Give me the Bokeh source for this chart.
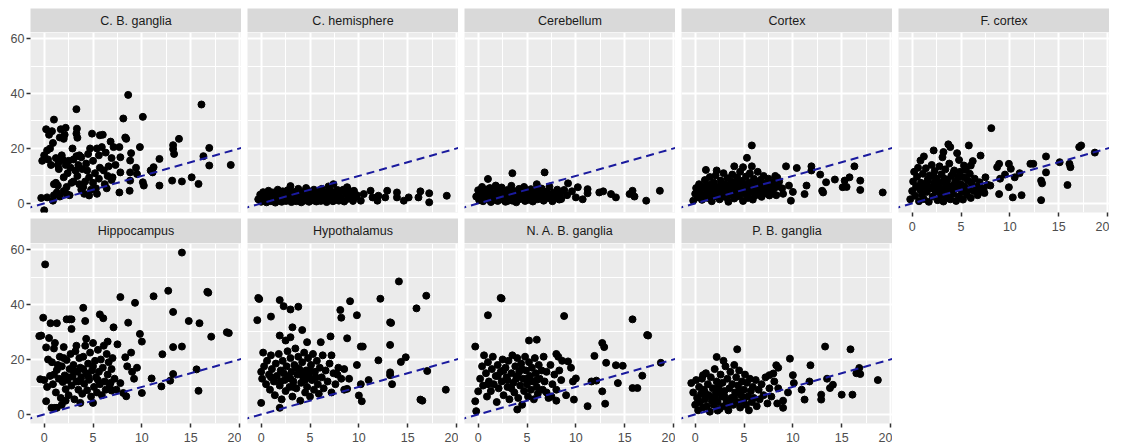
from bokeh.plotting import figure
from bokeh.layouts import row, column
from bokeh.models import Slope, Range1d, FixedTicker, LinearAxis, Grid, Label
from bokeh.embed import file_html
from bokeh.resources import INLINE

# ---------------- data (x, y) ----------------
C_B_GANGLIA = [
    (8.6, 39.5), (3.3, 34.3), (16.1, 36.0), (10.1, 31.5), (8.1, 30.9), (1.0, 30.5),
    (13.8, 23.5), (13.2, 21.2), (13.2, 19.8), (13.3, 18.0), (16.9, 20.2), (16.3, 17.2),
    (16.9, 13.8), (19.1, 14.0), (15.1, 9.5), (15.8, 7.1), (13.1, 8.3), (14.1, 8.0),
    (11.8, 16.2), (11.2, 13.2), (11.1, 11.3), (10.9, 12.0), (11.8, 6.5), (10.2, 6.5),
    (10.1, 7.7), (9.8, 20.5), (9.4, 13.0), (9.5, 10.7), (8.9, 18.3), (8.8, 15.6),
    (8.8, 11.3), (8.8, 8.3), (8.75, 4.6), (8.3, 24.0), (8.4, 23.5), (7.7, 20.5),
    (7.8, 16.8), (7.8, 11.3), (7.7, 4.0), (6.8, 22.5), (7.1, 20.5), (6.9, 16.5),
    (6.6, 13.5), (6.5, 10.0), (6.9, 8.5), (6.2, 7.0), (6.0, 25.0), (5.7, 24.8),
    (5.9, 20.5), (5.4, 20.0), (4.9, 25.4), (5.6, 17.5), (5.0, 15.5), (5.7, 13.0),
    (5.2, 11.0), (5.6, 9.0), (5.0, 7.5), (4.8, 5.0), (5.4, 3.5), (4.6, 2.9),
    (6.1, 12.0), (6.3, 18.5), (4.7, 20.0), (4.5, 18.0), (4.4, 12.0), (4.2, 8.0),
    (4.0, 6.0), (4.1, 3.5), (3.35, 27.2), (3.3, 25.4), (3.4, 23.9), (3.6, 17.5),
    (3.8, 16.8), (3.3, 17.2), (3.0, 16.0), (3.5, 14.0), (3.2, 12.0), (3.4, 10.0),
    (3.0, 8.0), (3.6, 7.0), (3.8, 5.0), (2.2, 27.5), (2.1, 25.0), (2.0, 23.5),
    (1.6, 24.0), (1.7, 27.0), (2.5, 15.5), (2.2, 14.0), (2.7, 13.0), (2.4, 11.0),
    (2.0, 9.5), (2.8, 7.5), (2.3, 6.0), (2.0, 4.5), (2.6, 3.0), (1.8, 17.5),
    (1.9, 16.0), (1.5, 15.2), (1.2, 16.5), (1.4, 14.0), (1.5, 12.5), (1.2, 7.5),
    (1.0, 7.0), (1.4, 6.5), (1.3, 4.0), (1.0, 3.0), (1.6, 2.5), (2.3, 3.5),
    (0.0, 17.5), (-0.2, 15.5), (0.3, 19.3), (0.6, 20.0), (0.9, 22.0), (0.5, 25.0),
    (0.8, 26.3), (0.2, 27.0), (0.3, 2.2), (-0.3, 2.0), (0.0, -2.5), (0.9, 1.0),
    (0.7, 14.0), (0.4, 16.0), (4.3, 14.5), (3.9, 12.5), (2.9, 20.0), (6.4, 5.5),
    (7.3, 14.0), (7.0, 9.5), (5.3, 5.5), (4.6, 9.5),
]

C_HEMISPHERE = [
    (-0.3, 1.5), (-0.1, 3.2), (0.0, 0.6), (0.15, 2.4), (0.2, 4.1), (0.35, 1.1),
    (0.4, 3.0), (0.55, 0.4), (0.6, 2.0), (0.75, 4.6), (0.8, 1.4), (0.95, 3.5),
    (1.0, 0.8), (1.15, 2.7), (1.2, 4.0), (1.3, 1.9), (1.45, 0.3), (1.5, 3.3),
    (1.65, 2.2), (1.7, 5.0), (1.85, 1.0), (1.9, 3.8), (2.05, 2.5), (2.1, 0.6),
    (2.2, 4.4), (2.35, 1.6), (2.4, 3.1), (2.55, 0.9), (2.6, 2.3), (2.7, 4.8),
    (2.85, 1.3), (2.9, 3.6), (3.0, 6.3), (3.1, 0.5), (3.25, 2.8), (3.3, 4.2),
    (3.45, 1.7), (3.5, 3.4), (3.6, 0.8), (3.75, 2.1), (3.8, 5.3), (3.9, 1.2),
    (4.05, 3.0), (4.1, 0.4), (4.2, 4.1), (4.35, 2.4), (4.4, 1.0), (4.5, 3.7),
    (4.6, 5.6), (4.75, 1.8), (4.8, 2.9), (4.9, 0.6), (5.05, 4.3), (5.1, 2.0),
    (5.2, 3.4), (5.35, 1.1), (5.4, 5.0), (5.5, 2.6), (5.65, 0.7), (5.7, 3.9),
    (5.8, 1.6), (5.95, 4.7), (6.0, 2.3), (6.1, 0.9), (6.2, 5.3), (6.35, 3.1),
    (6.4, 1.4), (6.5, 4.0), (6.65, 2.0), (6.7, 0.5), (6.8, 3.5), (6.9, 6.2),
    (7.05, 1.8), (7.1, 4.6), (7.2, 2.7), (7.35, 0.8), (7.4, 7.0), (7.5, 3.8),
    (7.65, 1.5), (7.7, 2.5), (7.8, 4.9), (7.95, 1.0), (8.0, 3.3), (8.2, 2.0),
    (8.4, 5.0), (8.5, 0.7), (8.7, 3.6), (8.8, 5.9), (8.9, 1.7), (9.0, 4.6),
    (9.2, 2.6), (9.4, 0.9), (9.5, 4.6), (9.6, 2.2), (9.8, 3.0),
    (10.2, 1.0), (10.5, 3.4), (11.2, 4.6), (11.4, 2.2), (11.9, 1.0), (12.0, 2.8),
    (12.7, 2.2), (12.9, 4.6), (13.9, 4.0), (13.9, 2.2), (14.6, 1.0), (15.1, 2.2),
    (16.1, 2.2), (16.3, 4.4), (17.2, 3.7), (17.2, 0.4), (19.0, 2.8),
    (0.2, 1.8), (0.5, 2.9), (0.9, 1.9), (1.2, 2.6), (1.6, 3.9), (2.0, 1.4),
    (2.4, 2.0), (2.8, 3.0), (3.1, 3.9), (3.5, 1.9), (3.9, 2.6), (4.3, 3.6),
    (4.7, 3.2), (5.1, 1.5), (5.5, 3.9), (5.9, 2.9), (6.3, 1.9), (6.7, 3.0),
    (7.1, 2.1), (7.5, 2.6),
]

CEREBELLUM = [
    (1.0, 8.9), (3.5, 11.0), (6.8, 11.3), (9.2, 7.3), (10.2, 5.9), (11.2, 5.2),
    (11.2, 3.7), (12.4, 4.0), (12.8, 4.4), (13.6, 3.4), (14.1, 2.2), (15.8, 4.6),
    (15.5, 3.4), (17.2, 1.0), (18.6, 4.6), (16.0, 2.5), (9.6, 4.4), (10.0, 2.2),
    (9.1, 3.0), (8.8, 4.9), (8.5, 1.6), (10.7, 1.5),
    (-0.2, 2.5), (0.0, 4.8), (0.1, 1.2), (0.3, 3.6), (0.4, 6.0), (0.5, 0.8),
    (0.6, 2.9), (0.8, 4.4), (0.9, 1.7), (1.1, 3.2), (1.2, 5.6), (1.3, 0.5),
    (1.4, 2.4), (1.6, 4.0), (1.7, 1.3), (1.8, 6.5), (1.9, 3.0), (2.0, 0.9),
    (2.2, 4.7), (2.3, 2.1), (2.4, 5.8), (2.5, 1.4), (2.6, 3.5), (2.8, 0.6),
    (2.9, 2.7), (3.0, 4.9), (3.1, 1.8), (3.3, 3.9), (3.4, 6.4), (3.5, 1.0),
    (3.6, 2.5), (3.8, 4.4), (3.9, 0.4), (4.0, 3.1), (4.2, 5.3), (4.3, 1.6),
    (4.4, 3.8), (4.6, 2.2), (4.7, 6.0), (4.8, 0.9), (5.0, 4.1), (5.1, 2.8),
    (5.2, 1.3), (5.4, 5.2), (5.5, 3.3), (5.6, 0.7), (5.8, 2.1), (5.9, 4.6),
    (6.0, 7.0), (6.1, 1.5), (6.3, 3.6), (6.4, 2.4), (6.5, 5.4), (6.7, 1.0),
    (6.8, 3.0), (7.0, 4.3), (7.1, 1.9), (7.3, 6.1), (7.4, 2.7), (7.6, 0.8),
    (7.7, 3.9), (7.9, 2.1), (8.1, 5.0), (8.3, 1.4), (8.4, 3.3), (0.7, 2.0),
    (1.5, 1.8), (2.1, 3.3), (2.7, 2.0), (3.2, 2.9), (3.7, 3.4), (4.1, 2.0),
    (4.5, 4.6), (4.9, 3.0), (5.3, 2.0), (5.7, 3.8), (6.2, 2.8), (6.6, 4.2),
    (6.9, 2.3), (7.2, 3.2), (1.0, 5.2), (1.3, 3.7), (2.0, 5.5), (2.8, 4.0),
    (3.0, 0.9),
]

CORTEX = [
    (5.8, 21.1), (5.3, 16.6), (4.0, 13.5), (4.9, 13.2), (1.1, 12.2), (2.2, 12.0),
    (5.8, 13.5), (9.3, 13.5), (10.4, 12.9), (11.9, 13.5), (11.9, 12.0), (16.3, 13.5),
    (12.8, 10.5), (14.3, 8.7), (13.4, 7.7), (15.3, 8.3), (15.8, 9.5), (16.9, 8.3),
    (16.9, 4.9), (19.2, 4.0), (15.1, 5.9), (15.5, 6.0), (13.1, 4.0), (13.0, 4.6),
    (11.2, 3.4), (11.4, 6.5), (9.8, 1.0), (10.0, 4.2), (9.6, 6.5), (8.9, 5.5),
    (8.6, 8.0), (8.2, 10.0), (9.0, 3.5),
    (-0.2, 1.0), (0.0, 3.5), (0.1, 5.6), (0.3, 2.2), (0.4, 7.0), (0.5, 4.3),
    (0.7, 1.3), (0.8, 6.2), (0.9, 3.0), (1.0, 8.5), (1.2, 4.8), (1.3, 2.0),
    (1.4, 6.8), (1.5, 9.6), (1.6, 3.6), (1.7, 0.8), (1.8, 5.5), (1.9, 7.6),
    (2.0, 2.6), (2.1, 10.2), (2.2, 4.4), (2.4, 6.2), (2.5, 1.5), (2.6, 8.3),
    (2.7, 3.4), (2.8, 5.6), (2.9, 11.0), (3.0, 7.0), (3.1, 2.3), (3.2, 4.8),
    (3.3, 9.2), (3.4, 0.6), (3.5, 6.0), (3.6, 3.2), (3.7, 8.0), (3.8, 10.5),
    (3.9, 5.0), (4.0, 1.8), (4.1, 7.4), (4.2, 3.8), (4.3, 9.5), (4.4, 6.0),
    (4.5, 2.6), (4.6, 11.5), (4.7, 4.6), (4.8, 8.2), (4.9, 0.9), (5.0, 6.6),
    (5.1, 3.5), (5.2, 9.8), (5.3, 5.4), (5.4, 2.0), (5.5, 7.6), (5.6, 11.0),
    (5.7, 4.0), (5.8, 6.8), (5.9, 1.4), (6.0, 9.0), (6.1, 5.2), (6.2, 3.0),
    (6.3, 7.8), (6.4, 11.5), (6.5, 4.4), (6.6, 6.3), (6.7, 8.6), (6.8, 2.4),
    (6.9, 5.8), (7.0, 10.0), (7.1, 3.6), (7.2, 7.2), (7.3, 5.0), (7.5, 9.0),
    (7.6, 2.9), (7.7, 6.4), (7.8, 4.2), (8.0, 7.8), (8.1, 5.5), (8.3, 3.0),
    (8.4, 9.4), (8.5, 6.2), (1.1, 5.9), (2.3, 5.1), (3.0, 4.0), (3.6, 6.8),
    (4.3, 4.8), (5.0, 4.3), (5.6, 5.8), (6.3, 4.8), (7.0, 6.0), (2.0, 3.8),
    (1.5, 4.8), (4.6, 7.0), (3.3, 2.9),
]

F_CORTEX = [
    (8.1, 27.4), (3.7, 21.5), (3.9, 20.5), (5.8, 21.1), (2.2, 19.3), (1.2, 17.1),
    (0.85, 15.6), (3.2, 18.7), (3.1, 16.8), (4.6, 18.3), (4.8, 15.8), (7.0, 17.4),
    (6.2, 15.4), (6.0, 13.8), (5.3, 13.8), (8.9, 14.4), (8.7, 13.2), (9.9, 14.4),
    (10.1, 12.6), (12.1, 14.4), (12.4, 14.4), (13.7, 17.1), (13.7, 11.3), (15.1, 15.0),
    (16.1, 14.4), (16.2, 13.2), (17.1, 20.5), (17.3, 21.1), (18.7, 18.5), (15.9, 6.7),
    (13.2, 8.3), (13.3, 7.3), (13.2, 1.2), (11.2, 3.0), (10.3, 2.2), (9.9, 5.9),
    (8.9, 3.4), (9.5, 10.5), (10.5, 9.5), (11.0, 11.0), (9.0, 9.0), (7.5, 9.5),
    (8.0, 6.5), (7.3, 5.0), (6.8, 4.2),
    (-0.2, 1.5), (0.0, 4.5), (0.1, 8.0), (0.2, 11.5), (0.3, 2.8), (0.4, 6.2),
    (0.5, 9.7), (0.6, 13.0), (0.7, 0.8), (0.8, 5.0), (0.9, 7.5), (1.0, 3.2),
    (1.1, 10.8), (1.2, 1.6), (1.3, 6.3), (1.4, 12.8), (1.5, 4.2), (1.6, 8.8),
    (1.7, 0.6), (1.8, 10.2), (1.9, 5.6), (2.0, 14.0), (2.1, 2.5), (2.2, 7.3),
    (2.3, 11.8), (2.4, 4.4), (2.5, 9.0), (2.6, 1.2), (2.7, 6.0), (2.8, 13.5),
    (2.9, 3.0), (3.0, 10.6), (3.1, 7.8), (3.2, 0.7), (3.3, 5.4), (3.4, 12.4),
    (3.5, 2.6), (3.6, 8.5), (3.7, 4.8), (3.8, 14.5), (3.9, 1.5), (4.0, 10.0),
    (4.1, 6.4), (4.2, 3.5), (4.3, 12.0), (4.4, 8.0), (4.5, 0.9), (4.6, 5.5),
    (4.7, 9.4), (4.8, 2.6), (4.9, 11.5), (5.0, 7.0), (5.1, 4.3), (5.2, 1.4),
    (5.3, 9.5), (5.4, 6.0), (5.5, 12.2), (5.6, 3.2), (5.7, 8.3), (5.8, 5.0),
    (5.9, 10.8), (6.0, 2.0), (6.1, 7.2), (6.3, 4.5), (6.4, 9.0), (6.6, 6.0),
    (6.7, 3.0), (6.9, 7.7), (7.1, 5.5), (7.4, 3.8), (7.7, 6.8), (1.0, 6.0),
    (1.5, 7.5), (2.0, 5.5), (2.5, 6.8), (3.0, 4.5), (3.5, 6.8), (4.0, 5.0),
    (4.5, 7.2), (5.0, 5.8), (5.5, 4.5), (2.2, 9.8), (3.3, 9.0), (4.2, 11.0),
]

HIPPOCAMPUS = [
    (14.1, 58.9), (0.1, 54.6), (12.7, 45.0), (16.7, 44.6), (16.8, 44.3), (11.2, 43.0),
    (7.8, 42.7), (9.3, 40.6), (4.0, 38.8), (-0.1, 35.2), (-0.3, 28.7), (-0.5, 28.5),
    (0.65, 33.2), (1.3, 33.2), (2.3, 34.6), (2.6, 34.6), (2.8, 34.6), (2.8, 31.1),
    (4.2, 34.0), (5.7, 36.4), (6.05, 35.0), (7.1, 31.7), (8.6, 33.4), (13.2, 37.3),
    (14.8, 34.0), (15.9, 33.2), (17.1, 28.3), (18.7, 29.9), (18.9, 29.6), (9.8, 29.3),
    (10.0, 26.5), (13.2, 24.5), (14.1, 24.7), (12.1, 21.9), (11.0, 13.1), (12.0, 10.2),
    (12.9, 12.3), (13.2, 14.7), (15.6, 16.4), (15.8, 8.6), (10.0, 7.8), (8.1, 7.8),
    (8.4, 6.6), (7.8, 11.4), (6.7, 10.2), (6.9, 8.7), (5.0, 4.2), (3.7, 4.2),
    (0.75, 2.4), (1.1, 2.4), (1.3, 2.4), (0.2, 4.8), (9.5, 17.0), (8.9, 22.5),
    (8.3, 20.8), (9.0, 15.5), (9.2, 13.0), (8.5, 17.5), (7.5, 25.5), (6.5, 26.5),
    (-0.4, 12.8), (0.0, 12.5), (0.2, 24.4), (0.3, 10.0), (0.5, 27.8), (0.6, 14.0),
    (0.8, 19.0), (0.9, 11.0), (1.0, 24.0), (1.1, 26.0), (1.2, 8.0), (1.3, 16.2),
    (1.5, 13.0), (1.6, 21.0), (1.7, 6.0), (1.8, 17.5), (1.9, 11.8), (2.0, 24.5),
    (2.1, 14.2), (2.2, 9.2), (2.3, 19.8), (2.4, 12.5), (2.5, 7.0), (2.6, 16.5),
    (2.7, 22.0), (2.8, 10.5), (2.9, 13.8), (3.0, 18.0), (3.1, 5.5), (3.2, 23.0),
    (3.3, 12.0), (3.4, 15.5), (3.5, 9.0), (3.6, 20.5), (3.7, 17.0), (3.8, 13.5),
    (3.9, 7.5), (4.0, 21.0), (4.1, 11.2), (4.2, 25.0), (4.3, 15.0), (4.4, 8.8),
    (4.5, 18.5), (4.6, 12.6), (4.7, 22.5), (4.8, 6.5), (4.9, 16.0), (5.0, 26.0),
    (5.1, 10.0), (5.2, 19.5), (5.3, 13.5), (5.4, 8.0), (5.5, 23.5), (5.6, 15.5),
    (5.7, 11.0), (5.8, 20.0), (5.9, 7.0), (6.0, 17.0), (6.1, 25.0), (6.2, 12.0),
    (6.3, 9.0), (6.4, 22.0), (6.5, 14.5), (6.6, 19.0), (6.8, 11.5), (6.9, 16.5),
    (7.0, 20.5), (7.2, 13.0), (7.4, 9.0), (0.4, 20.0), (1.4, 18.0), (2.0, 20.5),
    (2.5, 13.5), (3.0, 16.0), (3.5, 12.0), (4.0, 16.5), (4.5, 14.0), (5.0, 17.5),
    (5.5, 12.5), (1.0, 14.5), (3.3, 25.0), (4.3, 27.5), (2.2, 5.0), (1.8, 3.5),
]

HYPOTHALAMUS = [
    (14.1, 48.4), (-0.3, 42.4), (-0.2, 42.0), (1.9, 41.6), (2.3, 39.4), (3.0, 38.2),
    (3.8, 39.2), (9.1, 41.2), (12.2, 42.1), (16.9, 43.2), (15.9, 38.6), (8.1, 38.0),
    (8.2, 35.2), (9.8, 36.1), (-0.4, 34.3), (1.0, 35.6), (13.2, 33.5), (13.3, 33.3),
    (3.2, 31.7), (4.2, 30.7), (1.9, 28.7), (2.5, 26.9), (3.0, 28.1), (4.7, 26.3),
    (6.1, 26.3), (7.1, 28.4), (8.8, 27.7), (10.2, 24.7), (10.4, 24.7), (13.2, 25.3),
    (0.2, 22.5), (7.2, 21.5), (12.0, 19.7), (14.3, 19.1), (14.8, 20.8), (17.0, 15.8),
    (13.2, 15.3), (13.2, 14.3), (13.4, 11.0), (11.0, 12.5), (10.2, 11.0), (10.0, 6.9),
    (10.3, 4.8), (8.8, 9.3), (16.3, 5.4), (16.5, 5.0), (18.9, 9.0), (1.9, 2.4),
    (0.0, 4.2), (9.8, 18.0), (8.5, 16.5), (7.8, 14.5), (9.0, 13.0),
    (0.0, 15.5), (0.1, 13.0), (0.3, 17.5), (0.5, 11.0), (0.6, 19.5), (0.8, 14.5),
    (0.9, 9.0), (1.0, 21.5), (1.1, 16.5), (1.3, 12.0), (1.4, 7.0), (1.5, 18.5),
    (1.6, 14.0), (1.8, 22.0), (1.9, 10.5), (2.0, 16.0), (2.1, 5.5), (2.2, 19.5),
    (2.4, 12.5), (2.5, 8.5), (2.6, 17.5), (2.7, 23.0), (2.8, 14.0), (2.9, 10.0),
    (3.0, 20.5), (3.1, 15.5), (3.2, 6.5), (3.3, 12.0), (3.4, 18.0), (3.5, 24.0),
    (3.6, 9.5), (3.7, 14.5), (3.8, 21.0), (3.9, 16.5), (4.0, 5.0), (4.1, 11.5),
    (4.2, 19.0), (4.3, 13.5), (4.4, 22.5), (4.5, 8.0), (4.6, 16.0), (4.7, 10.0),
    (4.8, 20.5), (4.9, 14.0), (5.0, 6.5), (5.1, 18.0), (5.2, 12.5), (5.3, 22.0),
    (5.4, 9.0), (5.5, 15.5), (5.7, 19.5), (5.8, 11.0), (5.9, 7.5), (6.0, 17.0),
    (6.2, 13.5), (6.3, 21.5), (6.4, 9.5), (6.6, 16.0), (6.8, 12.0), (7.0, 18.5),
    (7.2, 8.0), (7.4, 15.0), (7.6, 11.0), (7.9, 17.0), (8.2, 13.0), (8.5, 9.0),
    (1.0, 13.5), (2.3, 15.0), (3.0, 13.0), (3.6, 17.0), (4.2, 15.0), (5.0, 16.0),
    (5.6, 13.5), (2.0, 12.0), (3.3, 10.0), (4.5, 12.5),
]

N_A_B_GANGLIA = [
    (2.3, 42.4), (2.4, 42.2), (1.0, 36.1), (8.8, 35.8), (15.8, 34.6), (17.3, 28.9),
    (17.4, 28.7), (-0.3, 24.7), (5.2, 26.9), (6.0, 27.2), (12.7, 26.0), (12.9, 24.5),
    (13.1, 18.8), (11.9, 21.3), (14.1, 17.9), (14.8, 17.7), (18.7, 18.8), (16.8, 14.1),
    (15.8, 9.6), (16.3, 9.6), (14.3, 11.4), (12.7, 8.4), (13.0, 3.9), (11.2, 3.0),
    (12.1, 12.3), (11.6, 12.0), (10.0, 13.1), (9.7, 12.0), (9.8, 5.4), (4.0, 1.8),
    (-0.3, 4.8), (-0.2, 1.2), (0.0, 8.4), (8.0, 22.0), (8.2, 21.0), (8.6, 19.5),
    (9.2, 19.3), (9.5, 17.0), (7.5, 6.5), (8.0, 5.0), (9.0, 7.0), (7.0, 8.0),
    (0.2, 13.0), (0.4, 17.5), (0.5, 10.5), (0.6, 21.5), (0.8, 15.0), (0.9, 6.5),
    (1.0, 19.0), (1.1, 12.0), (1.3, 8.5), (1.4, 16.5), (1.5, 21.0), (1.6, 11.0),
    (1.8, 14.0), (1.9, 4.5), (2.0, 18.0), (2.1, 9.5), (2.3, 15.5), (2.4, 12.0),
    (2.5, 20.0), (2.6, 7.0), (2.8, 17.0), (2.9, 13.5), (3.0, 10.0), (3.1, 19.5),
    (3.2, 5.5), (3.4, 15.0), (3.5, 21.5), (3.6, 11.5), (3.7, 8.0), (3.8, 17.5),
    (3.9, 13.0), (4.0, 20.5), (4.1, 6.0), (4.2, 15.5), (4.3, 10.5), (4.4, 18.5),
    (4.5, 3.5), (4.6, 13.0), (4.7, 8.5), (4.8, 21.0), (4.9, 16.0), (5.0, 11.0),
    (5.1, 6.5), (5.2, 19.0), (5.3, 14.0), (5.4, 9.0), (5.5, 17.0), (5.6, 12.0),
    (5.7, 5.5), (5.8, 20.5), (5.9, 15.0), (6.0, 10.0), (6.1, 7.5), (6.2, 18.0),
    (6.3, 13.0), (6.5, 16.0), (6.6, 9.0), (6.7, 21.0), (6.8, 12.0), (7.0, 15.5),
    (7.2, 6.0), (7.4, 18.0), (7.6, 11.0), (7.8, 14.5), (8.0, 9.0), (8.3, 16.0),
    (8.5, 12.5), (1.0, 11.0), (2.0, 14.0), (3.0, 12.5), (4.0, 14.0), (5.0, 13.0),
    (3.4, 9.5), (2.6, 16.0), (4.5, 16.5), (6.0, 12.5),
]

P_B_GANGLIA = [
    (13.3, 24.7), (15.9, 23.7), (4.3, 23.7), (2.2, 20.9), (2.9, 19.5), (9.7, 20.3),
    (8.3, 17.9), (8.5, 17.0), (11.8, 17.9), (16.8, 16.9), (16.9, 14.7), (18.7, 12.5),
    (14.1, 10.8), (13.8, 9.6), (15.0, 7.2), (16.1, 7.2), (12.9, 7.2), (12.9, 5.4),
    (11.7, 12.0), (10.9, 9.0), (11.2, 5.4), (10.0, 14.3), (10.1, 11.4), (9.0, 2.4),
    (8.0, 14.9), (7.6, 14.3), (-0.4, 11.4), (0.8, 14.3), (2.3, 1.4), (13.5, 13.0),
    (16.5, 15.0), (9.5, 8.0), (9.0, 5.0), (8.5, 9.5),
    (-0.2, 8.0), (0.0, 3.5), (0.1, 12.5), (0.2, 6.0), (0.3, 1.5), (0.4, 10.0),
    (0.5, 4.5), (0.6, 7.5), (0.7, 13.0), (0.8, 2.5), (0.9, 9.0), (1.0, 5.5),
    (1.1, 15.0), (1.2, 3.0), (1.3, 11.0), (1.4, 7.0), (1.5, 1.0), (1.6, 13.5),
    (1.7, 5.0), (1.8, 9.5), (1.9, 3.5), (2.0, 16.5), (2.1, 7.5), (2.2, 12.0),
    (2.3, 4.5), (2.4, 10.0), (2.5, 2.0), (2.6, 14.5), (2.7, 6.5), (2.8, 11.5),
    (2.9, 3.0), (3.0, 8.5), (3.1, 17.5), (3.2, 5.0), (3.3, 13.0), (3.4, 1.5),
    (3.5, 9.5), (3.6, 15.5), (3.7, 6.0), (3.8, 11.0), (3.9, 3.5), (4.0, 18.0),
    (4.1, 8.0), (4.2, 13.5), (4.3, 4.5), (4.4, 10.5), (4.5, 16.0), (4.6, 2.5),
    (4.7, 7.0), (4.8, 12.0), (4.9, 5.0), (5.0, 9.0), (5.1, 14.5), (5.2, 3.5),
    (5.3, 11.5), (5.4, 6.5), (5.5, 1.5), (5.6, 13.0), (5.7, 8.5), (5.8, 4.5),
    (5.9, 10.0), (6.0, 6.0), (6.2, 12.5), (6.3, 3.0), (6.5, 9.0), (6.6, 5.5),
    (6.8, 11.0), (7.0, 7.0), (7.2, 13.5), (7.4, 4.0), (7.6, 9.5), (7.8, 6.5),
    (8.1, 12.0), (8.4, 4.0), (1.0, 8.0), (2.0, 6.0), (3.0, 6.5), (4.0, 6.5),
    (5.0, 6.0), (2.5, 8.5), (3.5, 4.0), (4.5, 8.5),
]

ROW1 = [("C. B. ganglia", C_B_GANGLIA), ("C. hemisphere", C_HEMISPHERE),
        ("Cerebellum", CEREBELLUM), ("Cortex", CORTEX), ("F. cortex", F_CORTEX)]
ROW2 = [("Hippocampus", HIPPOCAMPUS), ("Hypothalamus", HYPOTHALAMUS),
        ("N. A. B. ganglia", N_A_B_GANGLIA), ("P. B. ganglia", P_B_GANGLIA)]

X_TICKS = [0, 5, 10, 15, 20]
X_MINOR = [-2.5, 2.5, 7.5, 12.5, 17.5]
Y_TICKS = [0, 20, 40, 60]
Y_MINOR = [10, 30, 50]

# ---------------- style ----------------
FONT = "Liberation Sans"
PANEL_BG = "#EBEBEB"
STRIP_BG = "#D9D9D9"
FRAME_W = 211
FRAME_H = 180
PAGE_MARGIN = 8
LEFT_AXIS_W = 22
GAP = 6


def style_axis(ax, standoff):
    ax.axis_line_color = None
    ax.major_tick_line_color = "#333333"
    ax.major_tick_line_width = 1.5
    ax.major_tick_out = 4
    ax.major_tick_in = 0
    ax.minor_tick_line_color = None
    ax.major_label_text_font = FONT
    ax.major_label_text_font_size = "12.5px"
    ax.major_label_text_color = "#4D4D4D"
    ax.major_label_standoff = standoff


def make_panel(pts, left_axis, bottom_axis, border_left, border_bottom):
    p = figure(frame_width=FRAME_W, frame_height=FRAME_H,
               x_range=Range1d(-1.4, 20.2), y_range=Range1d(-3.3, 62.2),
               x_axis_location=None, y_axis_location=None,
               output_backend="svg", toolbar_location=None,
               min_border_left=border_left, min_border_right=0,
               min_border_top=0, min_border_bottom=border_bottom)
    p.center = [r for r in p.center if not isinstance(r, Grid)]
    p.background_fill_color = PANEL_BG
    p.outline_line_color = None
    p.border_fill_color = "white"

    gx = Grid(dimension=0, ticker=FixedTicker(ticks=X_TICKS, minor_ticks=X_MINOR),
              grid_line_color="white", grid_line_width=2,
              minor_grid_line_color="white", minor_grid_line_width=1)
    gy = Grid(dimension=1, ticker=FixedTicker(ticks=Y_TICKS, minor_ticks=Y_MINOR),
              grid_line_color="white", grid_line_width=2,
              minor_grid_line_color="white", minor_grid_line_width=1)
    p.add_layout(gx, "center")
    p.add_layout(gy, "center")

    if left_axis:
        ay = LinearAxis(ticker=FixedTicker(ticks=Y_TICKS))
        style_axis(ay, 2)
        p.add_layout(ay, "left")
    if bottom_axis:
        ax = LinearAxis(ticker=FixedTicker(ticks=X_TICKS))
        style_axis(ax, 5)
        p.add_layout(ax, "below")

    xs = [a for a, b in pts]
    ys = [b for a, b in pts]
    p.scatter(xs, ys, size=7, fill_color="black", line_color="black")
    p.add_layout(Slope(gradient=1, y_intercept=0, line_color="#1A1A9E",
                       line_width=2, line_dash="8 5"))
    return p


def make_strip(name, border_left, border_top, h):
    s = figure(frame_width=FRAME_W, frame_height=h,
               x_range=Range1d(0, 1), y_range=Range1d(0, 1),
               x_axis_location=None, y_axis_location=None,
               output_backend="svg", toolbar_location=None,
               min_border_left=border_left, min_border_right=0,
               min_border_top=border_top, min_border_bottom=0)
    s.center = [r for r in s.center if not isinstance(r, Grid)]
    s.background_fill_color = STRIP_BG
    s.outline_line_color = None
    s.add_layout(Label(x=0.5, y=0.5, text=name, text_align="center",
                       text_baseline="middle", text_font=FONT,
                       text_font_size="12.5px", text_color="#1A1A1A"))
    return s


cols = []
for i in range(5):
    bl = PAGE_MARGIN + LEFT_AXIS_W if i == 0 else GAP
    name1, pts1 = ROW1[i]
    items = [make_strip(name1, bl, PAGE_MARGIN, 24)]
    if i < 4:
        items.append(make_panel(pts1, i == 0, False, bl, GAP))
        name2, pts2 = ROW2[i]
        items.append(make_strip(name2, bl, 0, 25))
        items.append(make_panel(pts2, i == 0, True, bl, 0))
    else:
        items.append(make_panel(pts1, False, True, bl, 0))
    cols.append(column(*items, spacing=0))

layout = row(*cols, spacing=0)

open("out.html", "w").write(file_html(layout, INLINE))
